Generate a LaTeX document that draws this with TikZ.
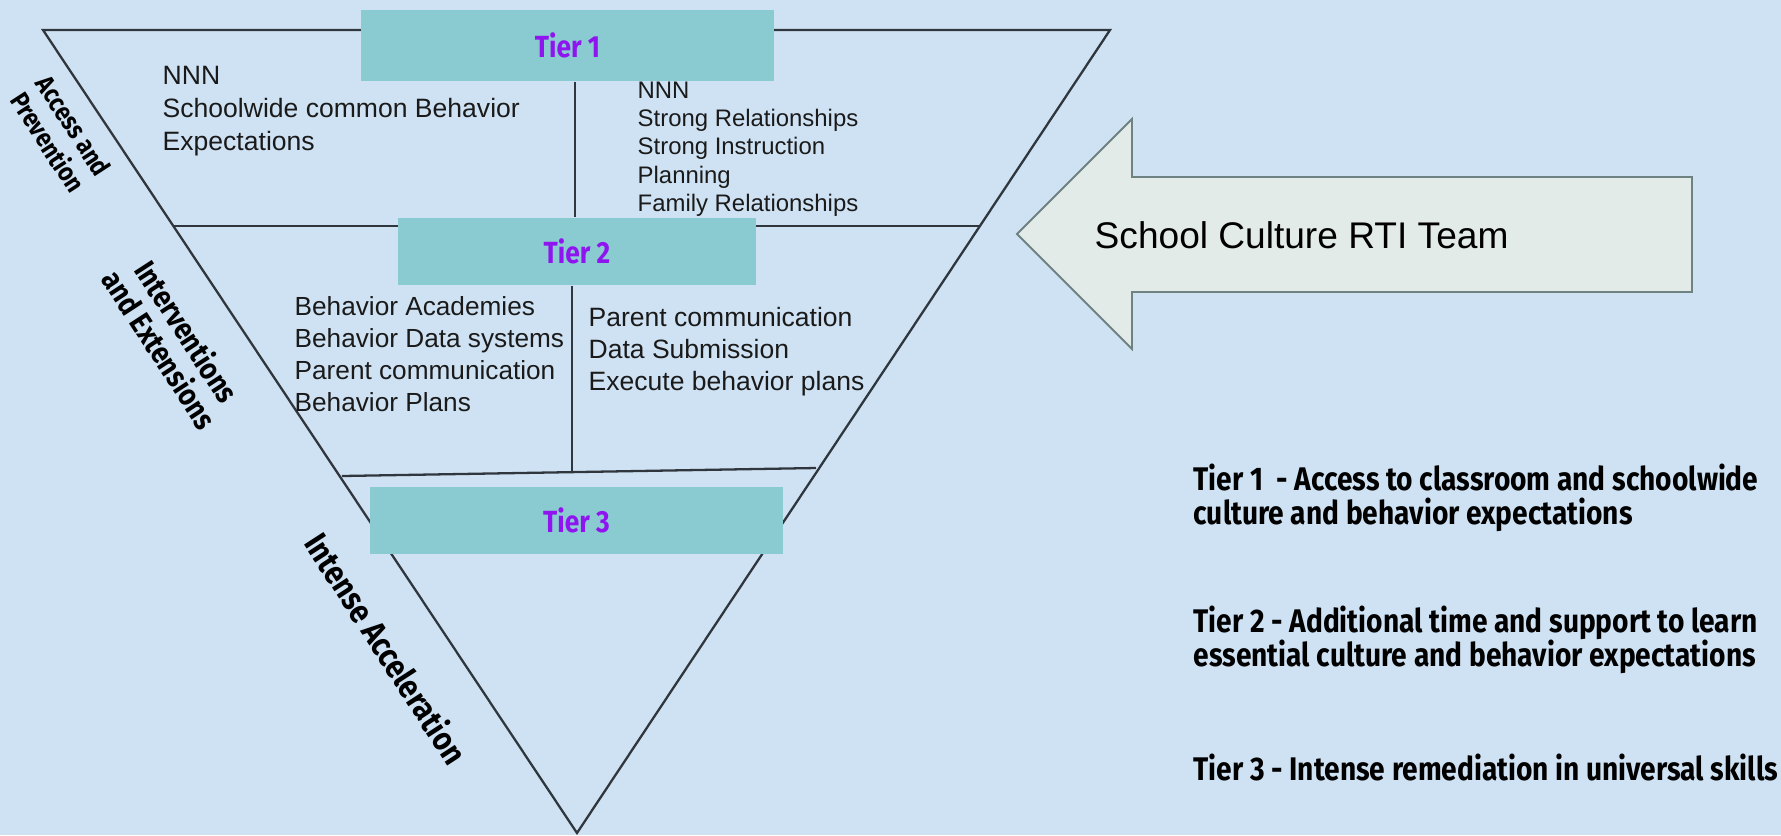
\documentclass[tikz,border=0pt]{standalone}
\usepackage{fontspec}
\setmainfont{Liberation Sans}
\newfontfamily\condfont[FakeStretch=0.86]{Fira Sans}

\definecolor{pagebg}{HTML}{CFE2F3}
\definecolor{tierfill}{HTML}{89CBD0}
\definecolor{tierpurple}{HTML}{8F14F0}
\definecolor{linegrey}{HTML}{30363D}
\definecolor{arrowfill}{HTML}{E2EBE8}
\definecolor{arrowline}{HTML}{6E8282}
\definecolor{ink}{HTML}{1A1A1A}

\begin{document}
\begin{tikzpicture}[x=0.01cm, y=-0.01cm,
  edge/.style={draw=linegrey, line width=0.65pt},
  tierbox/.style={fill=tierfill, draw=none, inner sep=0pt,
    text=tierpurple, font=\condfont\bfseries\fontsize{8.7pt}{9pt}\selectfont},
  % multi-line nodes: the base anchor sits on the last line
  itemtext/.style={inner sep=0pt, anchor=base west, align=left, text=ink},
  sidelabel/.style={inner sep=0pt, align=center, rotate=-57, text=black},
  legendtext/.style={inner sep=0pt, anchor=base west, align=left, text=black,
    font=\condfont\bfseries\fontsize{9.3pt}{9.67pt}\selectfont}]

% page
\useasboundingbox (0,0) rectangle (1781,835);
\fill[pagebg] (0,0) rectangle (1781,835);

% inverted triangle
\coordinate (TL) at (43,30);
\coordinate (TR) at (1110,30);
\coordinate (B) at (577,833);
\draw[edge, line join=miter] (TL) -- (TR) -- (B) -- cycle;

% tier dividers
\coordinate (d1l) at (173,226);
\coordinate (d1r) at (979,226);
\coordinate (d2l) at (342,476);
\coordinate (d2r) at (816,468);
\draw[edge] (d1l) -- (d1r);
\draw[edge] (d2l) -- (d2r);

% tier boxes
\node[tierbox, minimum width=4.13cm, minimum height=0.71cm] (t1) at (567.5,45.5) {Tier 1};
\node[tierbox, minimum width=3.58cm, minimum height=0.67cm] (t2) at (577,251.5) {Tier 2};
\node[tierbox, minimum width=4.13cm, minimum height=0.67cm] (t3) at (576.5,520.5) {Tier 3};

% column separators
\coordinate (v1) at (575,0);
\coordinate (v2) at (572,0);
\coordinate (v2end) at (572,472);
\draw[edge] (t1.south -| v1) -- (t2.north -| v1);
\draw[edge] (t2.south -| v2) -- (v2end);

% tier contents
\node[itemtext, font=\fontsize{7.55pt}{9.25pt}\selectfont] (t1left) at (162,150)
  {NNN\\Schoolwide common Behavior\\Expectations};
\node[itemtext, font=\fontsize{6.8pt}{8.07pt}\selectfont] (t1right) at (637,211.7)
  {NNN\\Strong Relationships\\Strong Instruction\\Planning\\Family Relationships};
\node[itemtext, font=\fontsize{7.45pt}{9.05pt}\selectfont] (t2left) at (294,411.1)
  {Behavior Academies\\Behavior Data systems\\Parent communication\\Behavior Plans};
\node[itemtext, font=\fontsize{7.54pt}{9.05pt}\selectfont] (t2right) at (588,390.6)
  {Parent communication\\Data Submission\\Execute behavior plans};

% labels along the left edge
\node[sidelabel, font=\condfont\bfseries\fontsize{7.5pt}{8.7pt}\selectfont] (lab1) at (61,134)
  {Access and\\Prevention};
\node[sidelabel, font=\condfont\bfseries\fontsize{8.7pt}{9.2pt}\selectfont] (lab2) at (174,340)
  {Interventions\\and Extensions};
\node[sidelabel, font=\condfont\bfseries\fontsize{9.5pt}{10pt}\selectfont] (lab3) at (387,648)
  {Intense Acceleration};

% team arrow
\coordinate (tip) at (1017,234);
\coordinate (ht) at (1132,119);
\coordinate (st) at (1132,177);
\coordinate (se) at (1692,177);
\coordinate (sb) at (1692,292);
\coordinate (sbl) at (1132,292);
\coordinate (hb) at (1132,349);
\draw[fill=arrowfill, draw=arrowline, line width=0.55pt, line join=miter]
  (tip) -- (ht) -- (st) -- (se) -- (sb) -- (sbl) -- (hb) -- cycle;
\node[itemtext, text=black, font=\fontsize{10.55pt}{12pt}\selectfont] (team) at (1094,248)
  {School Culture RTI Team};

% legend
\node[legendtext] (leg1) at (1193,524)
  {Tier 1\ \ - Access to classroom and schoolwide\\culture and behavior expectations};
\node[legendtext] (leg2) at (1193,666.6)
  {Tier 2 - Additional time and support to learn\\essential culture and behavior expectations};
\node[legendtext] (leg3) at (1193,780.3)
  {Tier 3 - Intense remediation in universal skills};
\end{tikzpicture}
\end{document}
